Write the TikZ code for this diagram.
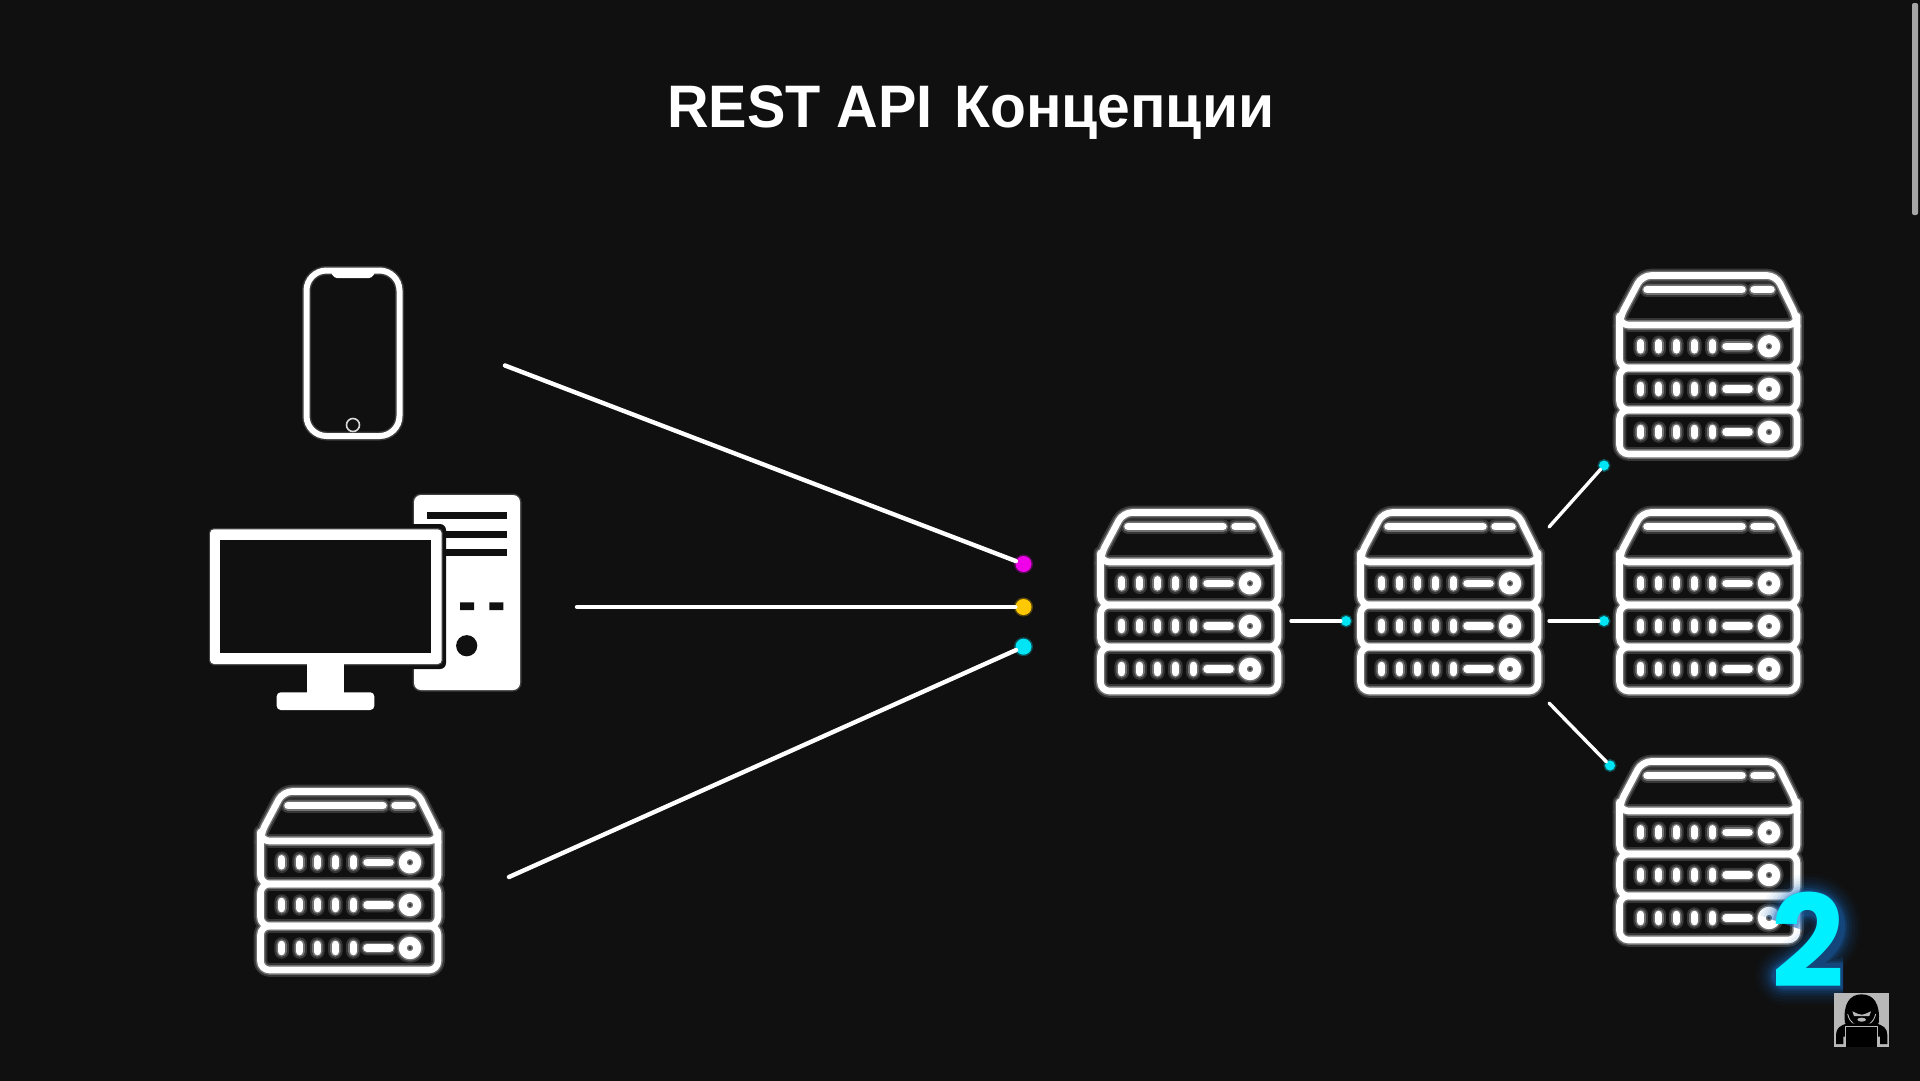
\documentclass[tikz,border=0pt]{standalone}
\usepackage{fontspec}
\setmainfont{Liberation Sans}
\newfontfamily\digitfont{Poppins}
\definecolor{bgc}{HTML}{101010}
\definecolor{neon}{HTML}{00F0FF}
\definecolor{dotcyan}{HTML}{00E5F5}
\definecolor{dotpink}{HTML}{F000E8}
\definecolor{dotyellow}{HTML}{FFC800}
\newcommand\srvshape[1]{%
  \begin{scope}[white,line cap=round,line join=round]
    \draw[line width=6.6pt+#1,rounded corners=9pt] (3.5,54) -- (3.5,47) -- (26,4.5) -- (160,4.5) -- (181,47) -- (181,54) -- cycle;
    \draw[line width=6.6pt+#1,rounded corners=9pt] (3.5,54) -- (3.5,97) -- (181,97) -- (181,54);
    \draw[line width=6.6pt+#1,rounded corners=9pt] (3.5,97) -- (3.5,139) -- (181,139) -- (181,97) -- cycle;
    \draw[line width=6.6pt+#1,rounded corners=9pt] (3.5,139) -- (3.5,183) -- (181,183) -- (181,139) -- cycle;
    \draw[line width=7.5pt+#1] (31,18.7) -- (126,18.7) (138,18.7) -- (155,18.7);
    \foreach \ry in {75.3,118,161}{
      \foreach \rx in {24.7,42.7,60.3,78.3,96.3}
        \draw[line width=7.5pt+#1] (\rx,\ry-3.5) -- (\rx,\ry+3.5);
      \draw[line width=7.5pt+#1] (110,\ry) -- (133,\ry);
      \draw[line width=8pt+#1] (153,\ry) circle[radius=7.2];
    }
  \end{scope}}
\tikzset{
  server/.pic={
    \begin{scope}[transparency group,opacity=.16]\srvshape{7pt}\end{scope}
    \begin{scope}[transparency group,opacity=.3]\srvshape{3pt}\end{scope}
    \srvshape{0pt}
  },
  link/.style={draw=white,line width=4.4pt,line cap=round},
  thinlink/.style={draw=white,line width=3.4pt,line cap=round},
  bigdot/.style={circle,fill=#1,inner sep=0pt,minimum size=16pt,preaction={draw=#1,draw opacity=.3,line width=3pt}},
  smalldot/.style={circle,fill=dotcyan,inner sep=0pt,minimum size=10pt,preaction={draw=dotcyan,draw opacity=.3,line width=3pt}},
  titletext/.style={text=white,font=\bfseries\fontsize{60}{66}\selectfont,inner sep=0pt,anchor=base west},
}
\begin{document}
\begin{tikzpicture}[x=1pt,y=-1pt]
\useasboundingbox (0,0) rectangle (1920,1080);
\fill[bgc] (-5,-5) rectangle (1925,1085);
% scrollbar
\fill[black!35!white,rounded corners=2pt] (1912,3) rectangle (1918,215);
% title
\node[titletext,xscale=.96] (t1) at (667,127) {REST API};
\node[titletext,xscale=.98] (t2) at (954,127) {Концепции};
% phone
\begin{scope}
  \draw[white,line width=9pt,opacity=.18,rounded corners=20pt] (306.5,270.5) rectangle (399.5,436);
  \draw[white,line width=6pt,rounded corners=20pt] (306.5,270.5) rectangle (399.5,436);
  \fill[white,rounded corners=3pt] (330,270) -- (334,278) -- (372,278) -- (376,270) -- cycle;
  \draw[white!85!black,line width=1.6pt] (353,425) circle[radius=6.5];
\end{scope}
% desktop
\begin{scope}
  \draw[white,line width=3pt,opacity=.2,rounded corners=7pt] (414,495) rectangle (520,690);
  \fill[white,rounded corners=7pt] (414,495) rectangle (520,690);
  \foreach \sy in {512.3,530.7,549}
    \fill[bgc] (427,\sy) rectangle (507,\sy+7);
  \fill[bgc] (460,602.3) rectangle (474,610) (489.3,602.3) rectangle (503.3,610);
  \fill[bgc] (466.7,645.7) circle[radius=10.6];
  \fill[bgc,rounded corners=6pt] (205,524) rectangle (446,669);
  \draw[white,line width=2.5pt,opacity=.2,rounded corners=4pt] (210,529.3) rectangle (441.7,664);
  \fill[white,rounded corners=4pt] (210,529.3) rectangle (441.7,664);
  \fill[bgc] (220,540) rectangle (430.7,653.3);
  \fill[white] (307.3,663) rectangle (344,694);
  \fill[white,rounded corners=4pt] (276.7,710) -- (276.7,692.3) -- (374.3,692.3) -- (374.3,710) -- cycle;
\end{scope}
% servers
\pic (srvleft) at (257,787) {server};
\pic (srvone) at (1097,508) {server};
\pic (srvtwo) at (1357,508) {server};
\pic (srvtop) at (1616,271) {server};
\pic (srvmid) at (1616,508) {server};
\pic (srvbot) at (1616,757) {server};
% dots
\node[bigdot=dotpink] (dp) at (1023.5,564) {};
\node[bigdot=dotyellow] (dy) at (1023.5,607) {};
\node[bigdot=dotcyan] (dc) at (1023.5,646.7) {};
\node[smalldot] (d0) at (1346,621) {};
\node[smalldot] (d1) at (1604,465.5) {};
\node[smalldot] (d2) at (1604,621) {};
\node[smalldot] (d3) at (1610,765.5) {};
% free ends
\coordinate (cphone) at (505,365.5);
\coordinate (cpc) at (577,607);
\coordinate (csrv) at (509,877);
\coordinate (c0) at (1291,621);
\coordinate (c1) at (1549,527);
\coordinate (c2) at (1549,621);
\coordinate (c3) at (1549,703);
% connectors
\draw[link] (cphone) -- (dp);
\draw[link] (cpc) -- (dy);
\draw[link] (csrv) -- (dc);
\draw[thinlink] (c0) -- (d0);
\draw[thinlink] (c1) -- (d1);
\draw[thinlink] (c2) -- (d2);
\draw[thinlink] (c3) -- (d3);
% glowing two
\foreach \gw/\gop in {58/.04,52/.05,46/.07,40/.1,35/.14,30/.2,26/.3}{
  \draw[draw=cyan!45!blue,line width=\gw pt,opacity=\gop,line join=round]
    (1785,924) .. controls (1790,908) and (1800,903) .. (1808,903)
    .. controls (1824,903) and (1832,915) .. (1832,927)
    .. controls (1832,942) and (1820,952) .. (1785,976) -- (1843,976);
}
\node[text=neon,font=\digitfont\bfseries\fontsize{128}{130}\selectfont,inner sep=0pt,anchor=base] (two) at (1808,987) {2};
% avatar
\begin{scope}[shift={(1680,860)},xscale=1/3,yscale=1/3]
  \fill[black!28!white] (462,398) rectangle (627,560);
  \fill[black] (495,490) .. controls (488,430) and (510,403) .. (545,403) .. controls (580,403) and (602,430) .. (596,490) -- (570,500) -- (520,500) -- cycle;
  \draw[black!28!white,line width=.9pt] (503,462) .. controls (510,490) and (525,497) .. (545,497) .. controls (565,497) and (580,490) .. (587,462);
  \fill[black!28!white] (517,454) -- (535,462) -- (545,464) -- (555,462) -- (573,454) -- (568,468) -- (522,468) -- cycle;
  \fill[black!28!white] (545,479) ellipse[x radius=13,y radius=6];
  \fill[black] (468,552) -- (468,525) .. controls (468,505) and (480,495) .. (505,490) -- (585,490) .. controls (610,495) and (622,505) .. (622,525) -- (622,552) -- (600,552) -- (600,530) -- (490,530) -- (490,552) -- cycle;
  \draw[black!28!white,line width=.8pt,fill=black] (497,560) -- (497,500) -- (593,500) -- (593,560);
\end{scope}
\end{tikzpicture}
\end{document}
